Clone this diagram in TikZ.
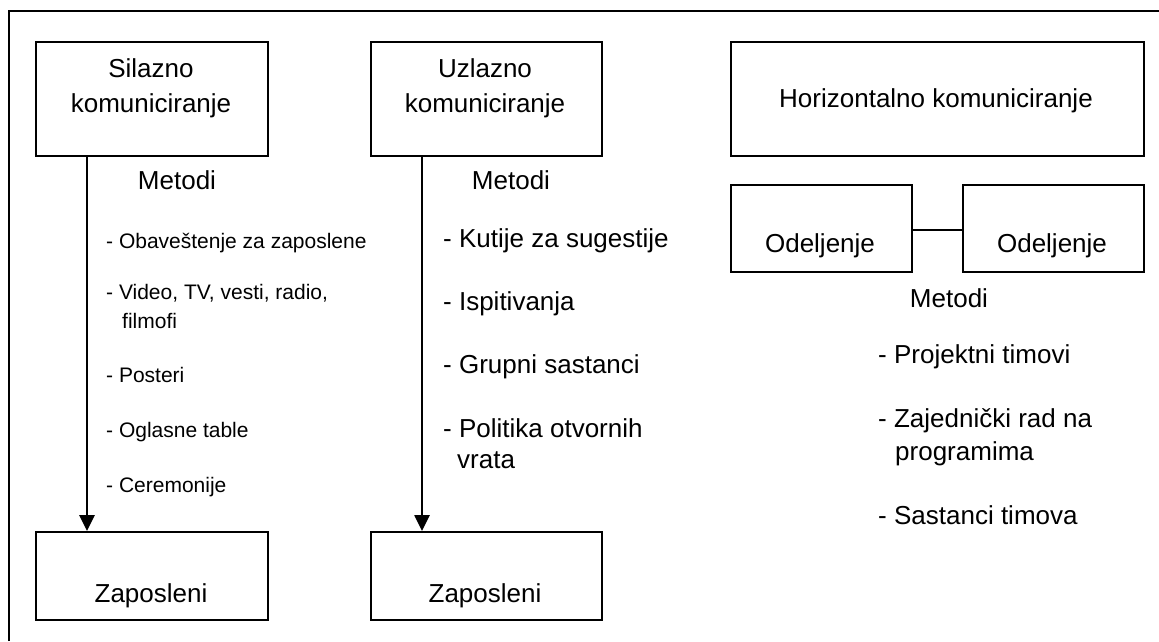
\documentclass[tikz,border=0pt]{standalone}
\usepackage{fontspec}
\setmainfont{Liberation Sans}
\usetikzlibrary{arrows.meta}

\tikzset{
  panel/.style={draw, line width=1.8pt, rectangle, inner sep=0pt, anchor=north west},
  bigtxt/.style={font=\fontsize{26pt}{31pt}\selectfont, inner sep=0pt},
  smalltxt/.style={font=\fontsize{21pt}{25pt}\selectfont, inner sep=0pt},
  flow/.style={line width=2.6pt, -{Triangle[length=16pt,width=15pt]}},
  link/.style={line width=1.8pt},
}

\begin{document}
\begin{tikzpicture}[x=1pt,y=-1pt]
\useasboundingbox (0,0) rectangle (1159,641);

% frame (only top and left edges fall inside the page)
\draw[line width=1.5pt] (9,641) -- (9,11) -- (1159,11);

% boxes
\node[panel, minimum width=232pt, minimum height=114pt] (s1) at (35,41) {};
\node[panel, minimum width=231pt, minimum height=114pt] (s2) at (370,41) {};
\node[panel, minimum width=413pt, minimum height=114pt] (s3) at (730,41) {};
\node[panel, minimum width=181pt, minimum height=87pt] (o1) at (730,184) {};
\node[panel, minimum width=181pt, minimum height=87pt] (o2) at (962,184) {};
\node[panel, minimum width=232pt, minimum height=88pt] (z1) at (35,531) {};
\node[panel, minimum width=231pt, minimum height=88pt] (z2) at (370,531) {};

% box captions
\node[bigtxt, anchor=base] (t1a) at (151,77) {Silazno};
\node[bigtxt, anchor=base] (t1b) at (151,112) {komuniciranje};
\node[bigtxt, anchor=base] (t2a) at (485,77) {Uzlazno};
\node[bigtxt, anchor=base] (t2b) at (485,112) {komuniciranje};
\node[bigtxt, anchor=base] (t3) at (936,107) {Horizontalno komuniciranje};
\node[bigtxt, anchor=base] (to1) at (820,252) {Odeljenje};
\node[bigtxt, anchor=base] (to2) at (1052,252) {Odeljenje};
\node[bigtxt, anchor=base] (tz1) at (151,602) {Zaposleni};
\node[bigtxt, anchor=base] (tz2) at (485,602) {Zaposleni};

% headings
\node[bigtxt, anchor=base] (m1) at (177,189) {Metodi};
\node[bigtxt, anchor=base] (m2) at (511,189) {Metodi};
\node[bigtxt, anchor=base] (m3) at (949,307) {Metodi};

% downward methods
\node[smalltxt, anchor=base west] (l1) at (106,248) {- Obaveštenje za zaposlene};
\node[smalltxt, anchor=base west] (l2) at (106,299) {- Video, TV, vesti, radio,};
\node[smalltxt, anchor=base west] (l2b) at (122,328) {filmofi};
\node[smalltxt, anchor=base west] (l3) at (106,382) {- Posteri};
\node[smalltxt, anchor=base west] (l4) at (106,437) {- Oglasne table};
\node[smalltxt, anchor=base west] (l5) at (106,492) {- Ceremonije};

% upward methods
\node[bigtxt, anchor=base west] (u1) at (443,247) {- Kutije za sugestije};
\node[bigtxt, anchor=base west] (u2) at (443,310) {- Ispitivanja};
\node[bigtxt, anchor=base west] (u3) at (443,373) {- Grupni sastanci};
\node[bigtxt, anchor=base west] (u4) at (443,437) {- Politika otvornih};
\node[bigtxt, anchor=base west] (u4b) at (457,468) {vrata};

% horizontal methods
\node[bigtxt, anchor=base west] (h1) at (878,363) {- Projektni timovi};
\node[bigtxt, anchor=base west] (h2) at (878,427) {- Zajednički rad na};
\node[bigtxt, anchor=base west] (h2b) at (895,460) {programima};
\node[bigtxt, anchor=base west] (h3) at (878,524) {- Sastanci timova};

% connectors
\draw[flow] ([xshift=52pt]s1.south west) -- ([xshift=52pt]z1.north west);
\draw[flow] ([xshift=52pt]s2.south west) -- ([xshift=52pt]z2.north west);
\draw[link] ([yshift=-1.5pt]o1.east) -- ([yshift=-1.5pt]o2.west);
\end{tikzpicture}
\end{document}
